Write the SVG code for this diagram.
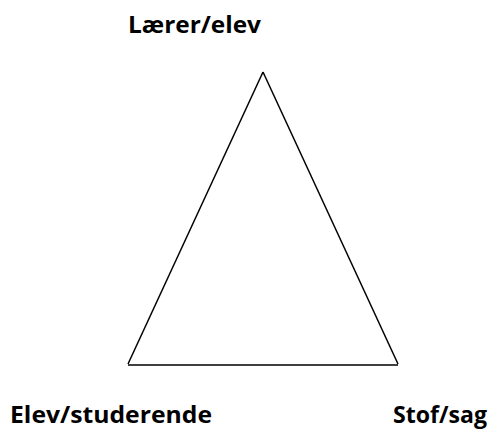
<svg xmlns="http://www.w3.org/2000/svg" width="496" height="430" viewBox="0 0 496 430">
<style>
.lbl{font-family:"Open Sans","Liberation Sans",sans-serif;font-weight:bold;font-size:24px;fill:#000}
.edge{stroke:#000;fill:none;stroke-width:1.5}
</style>
<rect width="496" height="430" fill="#fff"/>
<g id="connectors">
<line class="edge" x1="263" y1="72" x2="128" y2="364"/>
<line class="edge" x1="263" y1="72" x2="398" y2="364"/>
<line class="edge" x1="128" y1="365" x2="398" y2="365" stroke-width="2.5"/>
</g>
<g id="top"><text class="lbl" x="128" y="33" textLength="133" lengthAdjust="spacingAndGlyphs">Lærer/elev</text></g>
<g id="left"><text class="lbl" x="10" y="423" textLength="202" lengthAdjust="spacingAndGlyphs">Elev/studerende</text></g>
<g id="right"><text class="lbl" x="393" y="423" textLength="94" lengthAdjust="spacingAndGlyphs">Stof/sag</text></g>
</svg>
